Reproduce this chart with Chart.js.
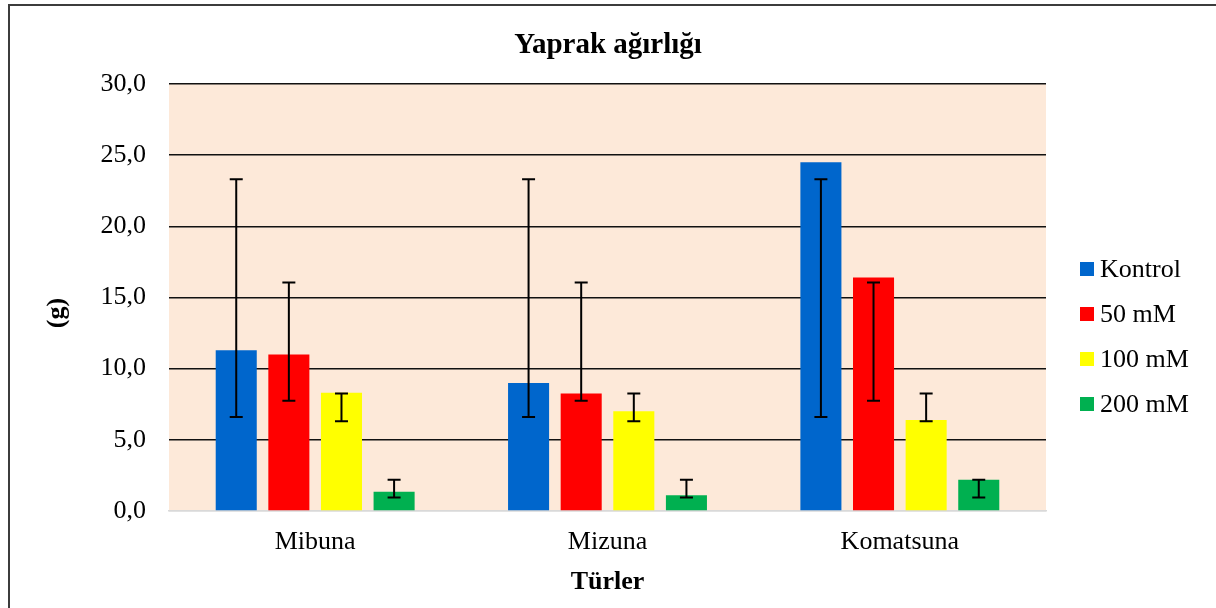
<!DOCTYPE html>
<html>
<head>
<meta charset="utf-8">
<script src="https://cdn.jsdelivr.net/npm/chart.js@4.4.1/dist/chart.umd.min.js"></script>
<style>
  html, body { margin: 0; padding: 0; background: #fff; overflow: hidden; }
  #wrap { position: relative; width: 1216px; height: 608px; }
  #frame { position: absolute; left: 8px; top: 4px; width: 1300px; height: 700px;
           border: 2px solid #3c3c3c; pointer-events: none; box-sizing: border-box; }
  canvas { position: absolute; left: 0; top: 0; }
</style>
</head>
<body>
<div id="wrap">
  <canvas id="c" width="1216" height="608"></canvas>
  <div id="frame"></div>
</div>
<script>
const chartTitle = 'Yaprak ağırlığı';
const xTitle = 'Türler';
const yTitle = '(g)';
const categories = ['Mibuna', 'Mizuna', 'Komatsuna'];
const seriesNames = ['Kontrol', '50 mM', '100 mM', '200 mM'];
const seriesColors = ['#0066CC', '#FF0000', '#FFFF00', '#00B050'];
const kontrol = [11.3, 9.0, 24.5];
const mm50 = [11.0, 8.25, 16.4];
const mm100 = [8.3, 7.0, 6.4];
const mm200 = [1.35, 1.1, 2.2];
// error bar ends (low, high) per series, per category
const kontrolErrLow = [6.6, 6.6, 6.6];
const kontrolErrHigh = [23.3, 23.3, 23.3];
const mm50ErrLow = [7.75, 7.75, 7.75];
const mm50ErrHigh = [16.05, 16.05, 16.05];
const mm100ErrLow = [6.3, 6.3, 6.3];
const mm100ErrHigh = [8.25, 8.25, 8.25];
const mm200ErrLow = [0.95, 0.95, 0.95];
const mm200ErrHigh = [2.2, 2.2, 2.2];
const yTicks = [0, 5, 10, 15, 20, 25, 30];

const seriesValues = [kontrol, mm50, mm100, mm200];
const errLows = [kontrolErrLow, mm50ErrLow, mm100ErrLow, mm200ErrLow];
const errHighs = [kontrolErrHigh, mm50ErrHigh, mm100ErrHigh, mm200ErrHigh];

const FONT = '"Liberation Serif", "Times New Roman", serif';

const plotBg = {
  id: 'plotBg',
  beforeDraw(chart) {
    const {ctx, chartArea: a} = chart;
    ctx.save();
    ctx.fillStyle = '#FDE9D9';
    ctx.fillRect(a.left, a.top, a.right - a.left, a.bottom - a.top);
    ctx.restore();
  }
};

const errorBars = {
  id: 'errorBars',
  afterDatasetsDraw(chart) {
    const {ctx} = chart;
    const y = chart.scales.y;
    ctx.save();
    ctx.strokeStyle = '#000';
    ctx.lineWidth = 2;
    chart.data.datasets.forEach((ds, di) => {
      const meta = chart.getDatasetMeta(di);
      meta.data.forEach((bar, i) => {
        const x = bar.x;
        const yl = y.getPixelForValue(errLows[di][i]);
        const yh = y.getPixelForValue(errHighs[di][i]);
        const cap = 6.5;
        ctx.beginPath();
        ctx.moveTo(x, yl); ctx.lineTo(x, yh);
        ctx.moveTo(x - cap, yl); ctx.lineTo(x + cap, yl);
        ctx.moveTo(x - cap, yh); ctx.lineTo(x + cap, yh);
        ctx.stroke();
      });
    });
    ctx.restore();
  }
};

const sideText = {
  id: 'sideText',
  afterDraw(chart) {
    const {ctx} = chart;
    ctx.save();
    ctx.fillStyle = '#000';
    ctx.font = 'bold 26px ' + FONT;
    ctx.textAlign = 'center';
    ctx.textBaseline = 'middle';
    ctx.translate(57, 313);
    ctx.rotate(-Math.PI / 2);
    ctx.fillText(yTitle, 0, 0);
    ctx.restore();
    ctx.save();
    ctx.font = '26px ' + FONT;
    ctx.textAlign = 'left';
    ctx.textBaseline = 'middle';
    chart.data.datasets.forEach((ds, i) => {
      const cy = 269 + i * 45;
      ctx.fillStyle = ds.backgroundColor;
      ctx.fillRect(1080, cy - 7, 14, 14);
      ctx.fillStyle = '#000';
      ctx.fillText(ds.label, 1100, cy + 1);
    });
    ctx.restore();
  }
};

new Chart(document.getElementById('c'), {
  type: 'bar',
  data: {
    labels: categories,
    datasets: seriesNames.map((n, i) => ({
      label: n,
      data: seriesValues[i],
      backgroundColor: seriesColors[i],
      borderWidth: 0,
      categoryPercentage: 0.72,
      barPercentage: 0.78
    }))
  },
  options: {
    responsive: false,
    animation: false,
    layout: { padding: { left: 0, right: 0, top: 0, bottom: 0 } },
    plugins: {
      legend: { display: false },
      tooltip: { enabled: false },
      title: {
        display: true,
        text: chartTitle,
        color: '#000',
        font: { family: FONT, size: 29, weight: 'bold', lineHeight: 1.2 },
        padding: { top: 28.6, bottom: 20.6 }
      }
    },
    scales: {
      x: {
        grid: { display: false, drawTicks: false },
        border: { display: true, color: '#D9D9D9', width: 1.5 },
        ticks: { color: '#000', font: { family: FONT, size: 26 }, padding: 16 },
        title: {
          display: true, text: xTitle, color: '#000',
          font: { family: FONT, size: 26, weight: 'bold', lineHeight: 1.2 },
          padding: { top: 0, bottom: 10.4 }
        },
        afterFit(s) { s.height = 97; }
      },
      y: {
        min: 0, max: 30,
        afterBuildTicks(s) { s.ticks = yTicks.map(v => ({ value: v })); },
        grid: {
          drawTicks: false,
          color: c => (c.tick && c.tick.value === 0) ? '#D9D9D9' : '#111',
          lineWidth: 1.5
        },
        border: { display: false },
        ticks: {
          color: '#000', font: { family: FONT, size: 26 }, padding: 23,
          callback: v => Number(v).toFixed(1).replace('.', ',')
        },
        afterFit(s) { s.width = 169; }
      },
      legendSpace: {
        type: 'linear',
        position: 'right',
        display: true,
        grid: { display: false, drawTicks: false },
        border: { display: false },
        ticks: { display: false },
        afterFit(s) { s.width = 170; }
      }
    }
  },
  plugins: [plotBg, errorBars, sideText]
});
</script>
</body>
</html>
